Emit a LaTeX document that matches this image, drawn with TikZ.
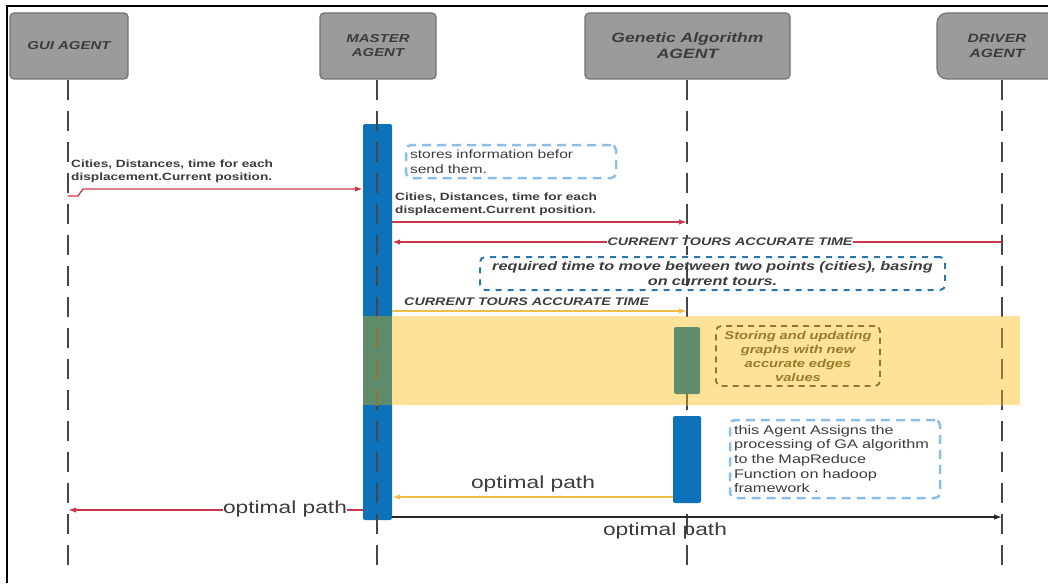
\documentclass[tikz,border=0pt]{standalone}
\usepackage{fontspec}
\setmainfont{Liberation Sans}[FakeStretch=1.3]
\usetikzlibrary{arrows.meta}
\definecolor{headfill}{RGB}{155,155,155}
\definecolor{headdraw}{RGB}{115,115,115}
\definecolor{txt}{RGB}{60,60,60}
\definecolor{lifec}{RGB}{70,70,70}
\definecolor{barblue}{RGB}{14,114,186}
\definecolor{bargreen}{RGB}{96,140,108}
\definecolor{bandy}{RGB}{253,226,152}
\definecolor{olivec}{RGB}{140,120,50}
\definecolor{msgred}{RGB}{200,55,75}
\definecolor{msgyel}{RGB}{240,190,70}
\definecolor{boxblue}{RGB}{140,190,230}
\definecolor{boxdark}{RGB}{40,120,175}
\definecolor{storetxt}{RGB}{150,125,40}
\tikzset{
  head/.style={draw=headdraw, line width=1.2pt, fill=headfill, rounded corners=4pt, text=txt,
    font=\bfseries\itshape\fontsize{11.5}{14}\selectfont, align=center, inner sep=0pt,
    minimum height=66pt},
  lifeline/.style={line width=2.8pt, lifec, dash pattern=on 20pt off 11pt},
  actbar/.style={fill=barblue, rounded corners=2pt, inner sep=0pt},
  msg/.style={line width=1.3pt, -{Latex[length=8pt,width=5.5pt]}},
  lbl/.style={text=txt, inner sep=1pt, font=\bfseries\fontsize{10.5}{13.5}\selectfont, align=left},
  caps/.style={text=txt, inner sep=1pt, font=\bfseries\itshape\fontsize{11}{13}\selectfont},
  big/.style={text=txt, inner sep=1pt, font=\fontsize{17.5}{20}\selectfont},
  note/.style={draw=boxblue, line width=2.5pt, dash pattern=on 9pt off 6pt, rounded corners=5pt,
    text=txt, align=left, inner sep=4pt}
}
\begin{document}
\begin{tikzpicture}[x=1pt,y=-1pt]
\useasboundingbox (0,0) rectangle (1048,583);
\draw[line width=1.5pt] (7,583) -- (7,6) -- (1048,6);

% heads
\node[head, minimum width=118pt] (gui) at (69,46) {GUI AGENT};
\node[head, minimum width=116pt] (master) at (378,46) {MASTER\\AGENT};
\node[head, minimum width=205pt, font=\bfseries\itshape\fontsize{13.5}{16}\selectfont] (ga) at (687.5,46) {Genetic Algorithm\\AGENT};
\node[head, minimum width=120pt, rounded corners=10pt, text width=120pt, font=\bfseries\itshape\fontsize{12}{14.5}\selectfont] (driver) at (997,46) {DRIVER\\AGENT};

% master activation bar
\node[actbar, minimum width=29pt, minimum height=396pt] (mbar) at (377.5,322) {};

% lifelines
\coordinate (guiend) at (68,567);
\coordinate (mend) at (377,567);
\coordinate (gaend) at (687,567);
\coordinate (dend) at (1002,567);
\draw[lifeline] (gui.south -| guiend) -- (guiend);
\draw[lifeline] (master.south -| mend) -- (mend);
\draw[lifeline] (ga.south -| gaend) -- (gaend);
\draw[lifeline] (driver.south -| dend) -- (dend);

% band
\fill[bandy] (363,316) rectangle (1020,405);
\fill[bargreen] (363,316) rectangle (392,405);
\begin{scope}
\clip (363,316) rectangle (1020,405);
\draw[lifeline, olivec] (master.south -| mend) -- (mend);
\draw[lifeline, olivec] (ga.south -| gaend) -- (gaend);
\draw[lifeline, olivec] (driver.south -| dend) -- (dend);
\end{scope}

% GA bars
\node[fill=bargreen, rounded corners=2pt, inner sep=0pt, minimum width=26pt, minimum height=67pt] (gagreen) at (687,360.5) {};
\node[actbar, minimum width=28pt, minimum height=87pt] (gabar) at (687,459.5) {};

% notes
\node[note, text width=202pt, minimum height=33pt, font=\fontsize{12}{15}\selectfont] (store) at (511,161.5) {stores information befor\\send them.};
\node[note, draw=boxdark, line width=2pt, dash pattern=on 6pt off 6pt, text width=457pt, align=center, minimum height=33pt, font=\bfseries\itshape\fontsize{12.5}{15}\selectfont] (req) at (712.5,273.5) {required time to move between two points (cities), basing\\on current tours.};
\node[note, draw=olivec, line width=1.8pt, dash pattern=on 6pt off 5pt, text=storetxt, text width=156pt, align=center, minimum height=60pt, font=\bfseries\itshape\fontsize{11.3}{14}\selectfont] (storing) at (798,356) {Storing and updating\\graphs with new\\accurate edges\\values};
\node[note, text width=202pt, minimum height=78pt, font=\fontsize{12.5}{14.6}\selectfont] (assign) at (835,459) {this Agent Assigns the\\processing of GA algorithm\\to the MapReduce\\Function on hadoop\\framework .};

% message 1: GUI -> Master
\coordinate (a1s) at (68,196);
\coordinate (a1k) at (78,196);
\coordinate (a1j) at (83,189);
\coordinate (a1e) at (mbar.west |- 0,189);
\draw[msg, msgred] (a1s) -- (a1k) -- (a1j) -- (a1e);
\node[lbl, anchor=south west] (l1) at (70,184) {Cities, Distances, time for each\\displacement.Current position.};

% message 2: Master -> GA
\coordinate (a2s) at (mbar.east |- 0,222);
\coordinate (a2e) at (687,222);
\draw[msg, msgred] (a2s) -- (a2e);
\node[lbl, anchor=south west] (l2) at (394,217) {Cities, Distances, time for each\\displacement.Current position.};

% message 3: Driver -> Master
\coordinate (a3s) at (1002,242);
\coordinate (a3e) at (mbar.east |- 0,242);
\draw[msg, msgred] (a3s) -- (a3e);
\node[caps, fill=white, inner sep=0.5pt] (l3) at (730,242) {CURRENT TOURS ACCURATE TIME};

% message 4: Master -> GA (yellow)
\coordinate (a4s) at (mbar.east |- 0,311);
\coordinate (a4e) at (687,311);
\draw[msg, msgyel] (a4s) -- (a4e);
\node[caps, anchor=south west] (l4) at (403,307) {CURRENT TOURS ACCURATE TIME};

% message 5: GA -> Master optimal path
\coordinate (a5s) at (gabar.west |- 0,497);
\coordinate (a5e) at (mbar.east |- 0,497);
\draw[msg, msgyel] (a5s) -- (a5e);
\node[big] (l5) at (533,484) {optimal path};

% message 6: Master -> GUI
\coordinate (a6s) at (mbar.west |- 0,510);
\coordinate (a6e) at (68,510);
\draw[msg, msgred] (a6s) -- (a6e);
\node[big, fill=white, inner sep=0.5pt] (l6) at (285,509) {optimal path};

% message 7: Master -> Driver
\coordinate (a7s) at (mbar.east |- 0,517);
\coordinate (a7e) at (1002,517);
\draw[msg, black!85] (a7s) -- (a7e);
\node[big] (l7) at (665,531) {optimal path};
\end{tikzpicture}
\end{document}
